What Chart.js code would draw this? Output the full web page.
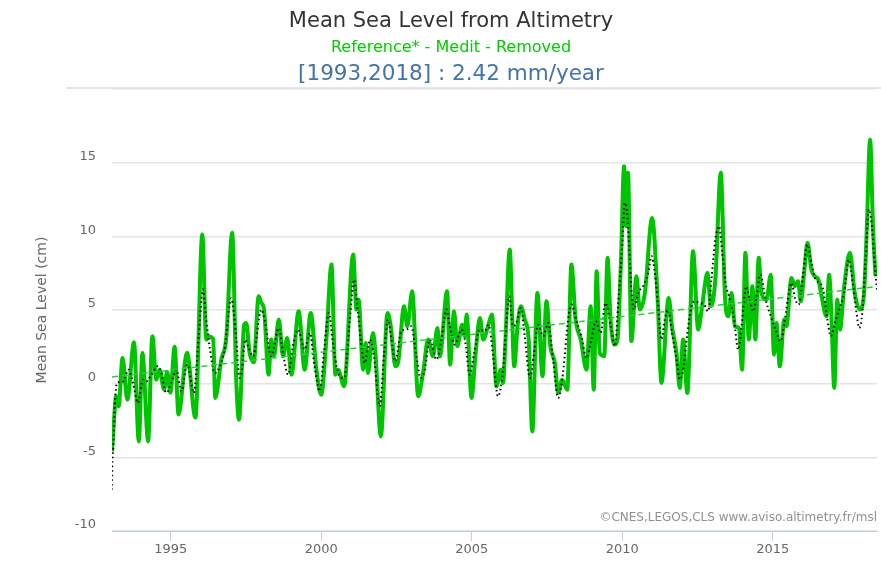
<!DOCTYPE html>
<html>
<head>
<meta charset="utf-8">
<title>Mean Sea Level from Altimetry</title>
<script src="https://cdn.jsdelivr.net/npm/chart.js@4.4.1/dist/chart.umd.min.js"></script>
<style>
  html, body { margin: 0; padding: 0; background: #ffffff; }
  .chart-container { position: relative; width: 881px; height: 573px; }
</style>
</head>
<body>
<div class="chart-container"><canvas id="mslChart"></canvas></div>
<script>
// Mean sea level (cm)
const mslYears = [
  1993.05, 1993.09, 1993.19, 1993.27, 1993.40, 1993.56, 1993.78, 1993.94, 1994.06, 1994.25,
  1994.39, 1994.52, 1994.63, 1994.78, 1994.88, 1994.99, 1995.13, 1995.26, 1995.54, 1995.82,
  1996.05, 1996.18, 1996.27, 1996.41, 1996.48, 1996.68, 1996.85, 1997.04, 1997.18, 1997.27,
  1997.44, 1997.51, 1997.62, 1997.76, 1997.92, 1998.01, 1998.10, 1998.25, 1998.34, 1998.43,
  1998.59, 1998.73, 1998.87, 1999.01, 1999.25, 1999.45, 1999.65, 1999.84, 2000.00, 2000.17,
  2000.34, 2000.47, 2000.56, 2000.76, 2001.06, 2001.17, 2001.24, 2001.39, 2001.48, 2001.55,
  2001.72, 2001.80, 2001.98, 2002.20, 2002.31, 2002.46, 2002.55, 2002.75, 2002.86, 2003.02,
  2003.22, 2003.38, 2003.55, 2003.71, 2003.86, 2003.94, 2004.18, 2004.28, 2004.41, 2004.52,
  2004.68, 2004.77, 2004.83, 2004.99, 2005.12, 2005.27, 2005.38, 2005.54, 2005.67, 2005.82,
  2005.96, 2006.04, 2006.12, 2006.26, 2006.41, 2006.52, 2006.63, 2006.76, 2006.89, 2007.01,
  2007.18, 2007.35, 2007.48, 2007.61, 2007.76, 2007.87, 2008.00, 2008.17, 2008.31, 2008.45,
  2008.62, 2008.81, 2008.95, 2009.05, 2009.15, 2009.25, 2009.40, 2009.51, 2009.61, 2009.75,
  2009.84, 2009.95, 2010.06, 2010.12, 2010.19, 2010.30, 2010.47, 2010.58, 2010.75, 2010.99,
  2011.17, 2011.30, 2011.54, 2011.65, 2011.80, 2011.91, 2012.02, 2012.16, 2012.35, 2012.52,
  2012.65, 2012.83, 2012.94, 2013.09, 2013.27, 2013.41, 2013.52, 2013.63, 2013.74, 2013.87,
  2013.98, 2014.09, 2014.20, 2014.32, 2014.42, 2014.53, 2014.62, 2014.79, 2014.93, 2015.04,
  2015.12, 2015.23, 2015.38, 2015.45, 2015.62, 2015.73, 2015.84, 2015.93, 2016.04, 2016.15,
  2016.28, 2016.39, 2016.51, 2016.62, 2016.78, 2016.87, 2016.95, 2017.04, 2017.14, 2017.23,
  2017.37, 2017.56, 2017.72, 2017.89, 2018.03, 2018.12, 2018.23, 2018.33, 2018.41
];
const mslValues = [
  -4.60, -3.35, -0.86, -1.54, 1.74, -1.09, 2.81, -3.92, 2.08, -3.92,
  3.22, 0.27, 0.95, -0.40, 0.80, -0.60, 2.50, -2.10, 2.10, -2.30,
  10.12, 2.99, 3.20, 3.00, -0.97, 1.63, 3.20, 10.24, 0.05, -2.45,
  4.00, 4.12, 2.08, 1.45, 5.93, 5.48, 5.03, 0.61, 2.99, 1.86,
  4.35, 1.86, 3.10, 0.61, 4.91, 0.95, 4.80, 0.95, -0.75, 2.99,
  8.08, 0.61, 0.95, -0.18, 8.76, 5.03, 5.71, 0.95, 2.76, 0.72,
  3.44, 2.08, -3.58, 4.80, 3.90, 1.18, 1.40, 5.25, 3.90, 6.27,
  -0.86, 0.72, 2.99, 1.86, 3.78, 1.86, 6.27, 1.29, 4.91, 2.54,
  4.00, 3.22, 4.69, -0.97, 1.86, 4.46, 2.99, 3.90, 4.69, -0.18,
  0.95, 0.05, 2.99, 9.10, 1.18, 3.90, 5.25, 4.35, 2.99, -3.24,
  6.16, 0.50, 5.59, 2.54, 1.40, -0.63, 0.27, -0.41, 8.08, 4.35,
  2.99, 0.95, 5.25, -0.41, 7.63, 2.08, 1.86, 8.54, 4.35, 2.65,
  2.99, 7.97, 14.76, 10.69, 14.31, 2.88, 7.29, 5.03, 6.16, 11.25,
  5.93, 0.05, 5.82, 3.90, 2.08, -0.29, 2.99, -0.63, 8.99, 3.67,
  5.25, 7.52, 5.25, 7.07, 14.31, 5.93, 4.57, 6.16, 3.90, 3.78,
  0.95, 8.88, 2.99, 6.61, 2.99, 8.54, 6.16, 5.71, 7.40, 1.97,
  4.12, 1.18, 4.35, 3.90, 7.18, 6.61, 6.95, 5.59, 7.52, 9.56,
  7.74, 7.29, 7.07, 5.93, 4.57, 7.40, 4.35, -0.29, 5.71, 3.67,
  6.61, 8.88, 6.16, 5.03, 6.16, 10.46, 16.58, 10.46, 7.29
];

// Smoothed series (black dots)
const smoothYears = [
  1993.04, 1993.06, 1993.09, 1993.14, 1993.22, 1993.42, 1993.60, 1993.75, 1993.91, 1994.08,
  1994.19, 1994.36, 1994.56, 1994.69, 1994.85, 1995.02, 1995.19, 1995.35, 1995.55, 1995.77,
  1995.93, 1996.07, 1996.18, 1996.29, 1996.46, 1996.63, 1996.79, 1997.01, 1997.18, 1997.28,
  1997.35, 1997.48, 1997.57, 1997.73, 1998.01, 1998.12, 1998.34, 1998.59, 1998.73, 1998.90,
  1999.06, 1999.23, 1999.45, 1999.62, 1999.78, 1999.95, 2000.09, 2000.25, 2000.39, 2000.56,
  2000.76, 2000.95, 2001.09, 2001.22, 2001.44, 2001.62, 2001.75, 2001.94, 2002.09, 2002.22,
  2002.33, 2002.46, 2002.66, 2002.83, 2002.99, 2003.16, 2003.30, 2003.44, 2003.60, 2003.83,
  2003.99, 2004.16, 2004.27, 2004.43, 2004.66, 2004.79, 2004.93, 2005.08, 2005.26, 2005.43,
  2005.56, 2005.71, 2005.87, 2006.04, 2006.15, 2006.24, 2006.37, 2006.48, 2006.63, 2006.76,
  2006.93, 2007.07, 2007.20, 2007.37, 2007.54, 2007.70, 2007.87, 2008.03, 2008.20, 2008.31,
  2008.48, 2008.64, 2008.81, 2008.97, 2009.12, 2009.28, 2009.44, 2009.62, 2009.75, 2009.88,
  2009.99, 2010.08, 2010.17, 2010.23, 2010.30, 2010.39, 2010.53, 2010.69, 2010.86, 2010.97,
  2011.08, 2011.19, 2011.30, 2011.41, 2011.52, 2011.65, 2011.80, 2011.91, 2012.02, 2012.16,
  2012.30, 2012.41, 2012.57, 2012.72, 2012.85, 2012.96, 2013.09, 2013.21, 2013.32, 2013.43,
  2013.57, 2013.71, 2013.85, 2013.96, 2014.12, 2014.23, 2014.35, 2014.46, 2014.58, 2014.76,
  2014.93, 2015.09, 2015.26, 2015.40, 2015.53, 2015.62, 2015.75, 2015.86, 2016.01, 2016.15,
  2016.28, 2016.42, 2016.56, 2016.67, 2016.78, 2016.93, 2017.06, 2017.22, 2017.37, 2017.52,
  2017.67, 2017.78, 2017.87, 2017.97, 2018.08, 2018.19, 2018.30, 2018.39, 2018.46
];
const smoothValues = [
  -7.20, -5.30, -4.40, -1.50, 0.05, 0.15, 0.95, 0.05, -1.30, 0.27,
  0.15, 0.61, 1.18, 0.72, -0.63, 0.05, 0.95, -0.52, 1.29, -0.63,
  3.22, 6.40, 4.35, 2.54, 0.72, 1.18, 2.31, 5.80, 2.99, 0.40,
  0.72, 2.99, 2.54, 1.86, 5.03, 4.35, 1.86, 3.78, 2.08, 0.61,
  2.54, 3.67, 2.31, 3.44, 1.18, -0.52, 2.08, 4.80, 2.76, 0.72,
  0.38, 4.35, 7.07, 4.80, 1.40, 2.99, 1.86, -1.54, 2.08, 4.35,
  2.99, 1.52, 3.56, 3.67, 3.90, 1.86, 0.38, 0.95, 2.99, 1.63,
  2.99, 5.03, 3.90, 2.65, 3.67, 2.76, 0.61, 2.08, 3.67, 3.56,
  4.00, 1.86, -0.86, 0.95, 4.12, 5.93, 3.90, 4.12, 5.14, 3.22,
  0.38, 2.08, 4.00, 3.22, 4.12, 1.63, -0.97, 0.72, 4.35, 5.37,
  4.23, 3.22, 1.74, 2.99, 4.23, 3.44, 5.48, 3.90, 2.54, 5.93,
  9.10, 12.27, 11.37, 9.30, 6.40, 5.03, 6.16, 6.61, 7.52, 8.65,
  7.52, 5.25, 2.99, 4.35, 5.03, 3.44, 1.63, 0.27, 0.95, 3.44,
  5.25, 5.59, 5.48, 5.37, 4.91, 7.07, 9.78, 10.69, 8.88, 6.84,
  5.71, 4.35, 2.31, 3.90, 6.61, 5.71, 4.91, 5.93, 7.40, 5.71,
  4.57, 3.67, 2.88, 4.35, 6.16, 6.84, 5.71, 5.37, 7.52, 9.44,
  8.20, 7.07, 6.84, 6.39, 4.80, 3.22, 4.12, 5.14, 6.16, 8.42,
  6.61, 4.80, 3.78, 4.80, 8.42, 11.82, 10.46, 7.97, 6.39
];

// Linear trend, 2.42 mm/year
const trendYears = [1993.05, 2018.46];
const trendValues = [0.45, 6.60];

const xTicks = [1995, 2000, 2005, 2010, 2015];
const yTicks = [-10, -5, 0, 5, 10, 15, 20];

const toPoints = (xs, ys) => xs.map((x, i) => ({ x: x, y: ys[i] }));

const fontFamily = '"DejaVu Sans", Verdana, sans-serif';

// Titles, separator line and credit text drawn on the canvas
const headerPlugin = {
    id: 'headerPlugin',
    beforeDraw(chart) {
        const c = chart.ctx;
        c.save();
        c.strokeStyle = '#e6e6e6';
        c.lineWidth = 2;
        c.beginPath();
        c.moveTo(66, 88);
        c.lineTo(881, 88);
        c.stroke();
        c.restore();
    },
    afterDraw(chart) {
        const c = chart.ctx;
        c.save();
        c.textAlign = 'center';
        c.textBaseline = 'middle';
        c.fillStyle = '#333333';
        c.font = '21px ' + fontFamily;
        c.fillText('Mean Sea Level from Altimetry', 451, 22);
        c.fillStyle = '#00cc00';
        c.font = '16px ' + fontFamily;
        c.fillText('Reference* - Medit - Removed', 451, 48);
        c.fillStyle = '#4572a7';
        c.font = '21.5px ' + fontFamily;
        c.fillText('[1993,2018] : 2.42 mm/year', 451, 74);
        c.textAlign = 'right';
        c.fillStyle = '#909090';
        c.font = '12px ' + fontFamily;
        c.fillText('\u00a9CNES,LEGOS,CLS www.aviso.altimetry.fr/msl', 877, 518);
        c.restore();
    }
};

const ctx = document.getElementById('mslChart').getContext('2d');
const mslChart = new Chart(ctx, {
    type: 'line',
    data: {
        datasets: [{
            label: 'Trend',
            data: toPoints(trendYears, trendValues),
            borderColor: '#2ecc40',
            borderWidth: 1.5,
            borderDash: [6, 4],
            pointRadius: 0,
            fill: false,
            order: 1
        }, {
            label: 'Smoothed',
            data: toPoints(smoothYears, smoothValues),
            borderColor: '#000000',
            borderWidth: 2,
            borderDash: [1.5, 3],
            cubicInterpolationMode: 'monotone',
            pointRadius: 0,
            fill: false,
            order: 2
        }, {
            label: 'MSL',
            data: toPoints(mslYears, mslValues),
            borderColor: '#00c400',
            borderWidth: 4,
            cubicInterpolationMode: 'monotone',
            pointRadius: 0,
            fill: false,
            order: 3
        }]
    },
    options: {
        responsive: true,
        maintainAspectRatio: false,
        animation: false,
        layout: {
            padding: { top: 89, left: 30, right: 4, bottom: 0 }
        },
        scales: {
            x: {
                type: 'linear',
                min: 1993.05,
                max: 2018.46,
                afterBuildTicks: (scale) => {
                    scale.ticks = xTicks.map(v => ({ value: v }));
                },
                afterFit: (scale) => { scale.height = 42; },
                grid: {
                    drawOnChartArea: false,
                    drawTicks: true,
                    tickLength: 10,
                    color: '#c0d0e0'
                },
                border: { display: true, color: '#c0d0e0', width: 1 },
                ticks: {
                    color: '#666666',
                    padding: 1,
                    maxRotation: 0,
                    font: { family: fontFamily, size: 13 },
                    callback: (value) => String(value)
                }
            },
            y: {
                min: -10,
                max: 20,
                afterBuildTicks: (scale) => {
                    scale.ticks = yTicks.map(v => ({ value: v }));
                },
                afterFit: (scale) => { scale.width = 82; },
                grid: {
                    color: '#e3e3e3',
                    lineWidth: 1.5,
                    drawTicks: false
                },
                border: { display: false },
                ticks: {
                    color: '#666666',
                    padding: 16,
                    labelOffset: -6,
                    font: { family: fontFamily, size: 13 },
                    callback: (value) => value === 20 ? '' : String(value)
                },
                title: {
                    display: true,
                    text: 'Mean Sea Level (cm)',
                    color: '#666666',
                    font: { family: fontFamily, size: 14 }
                }
            }
        },
        plugins: {
            legend: { display: false },
            tooltip: { enabled: false }
        }
    },
    plugins: [headerPlugin]
});
</script>
</body>
</html>
